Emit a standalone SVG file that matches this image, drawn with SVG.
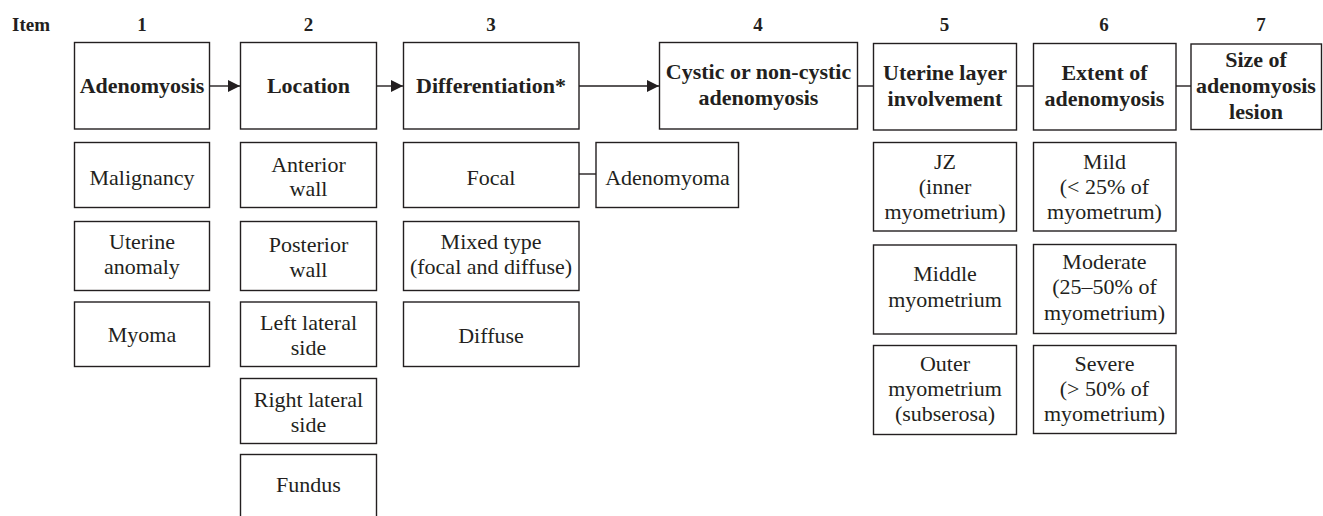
<svg xmlns="http://www.w3.org/2000/svg" width="1323" height="516" viewBox="0 0 1323 516" font-family="'Liberation Serif', 'Times New Roman', 'DejaVu Serif', serif">
<defs>
<style>
text{font-family:'Liberation Serif','Times New Roman','DejaVu Serif',serif;fill:#231f20;text-anchor:middle}
.h{font-size:19px;font-weight:bold}
.b{font-size:22px;font-weight:bold}
.r{font-size:22px}
rect{fill:#fff;stroke:#231f20;stroke-width:1.4}
.c line{stroke:#231f20;stroke-width:1.4}
</style>
<marker id="ah" viewBox="0 0 12 12" refX="12" refY="6" markerWidth="12" markerHeight="12" markerUnits="userSpaceOnUse" orient="auto">
<path d="M0,0 L12,6 L0,12 Z" fill="#231f20"/>
</marker>
</defs>
<rect x="0" y="0" width="1323" height="516" style="fill:#fff;stroke:none"/>
<g id="headers">
<text class="h" x="31" y="31">Item</text>
<text class="h" x="142" y="31">1</text>
<text class="h" x="308.5" y="31">2</text>
<text class="h" x="491" y="31">3</text>
<text class="h" x="758" y="31">4</text>
<text class="h" x="944.5" y="31">5</text>
<text class="h" x="1104" y="31">6</text>
<text class="h" x="1261" y="31">7</text>
</g>
<g class="c" id="connectors">
<line x1="210" y1="86" x2="240" y2="86" marker-end="url(#ah)"/>
<line x1="377" y1="86" x2="403" y2="86" marker-end="url(#ah)"/>
<line x1="579" y1="86" x2="659" y2="86" marker-end="url(#ah)"/>
<line x1="857" y1="86" x2="873" y2="86"/>
<line x1="1017" y1="86" x2="1033" y2="86"/>
<line x1="1176" y1="86" x2="1191" y2="86"/>
<line x1="579" y1="174" x2="596" y2="174"/>
</g>
<g id="n1"><rect x="74.5" y="42.5" width="135" height="86.5"/><text class="b" x="142" y="92.5">Adenomyosis</text></g>
<g id="n2"><rect x="240.5" y="42.5" width="136" height="86.5"/><text class="b" x="308.5" y="92.5">Location</text></g>
<g id="n3"><rect x="403.5" y="42.5" width="175.5" height="86.5"/><text class="b" x="491" y="92.5">Differentiation*</text></g>
<g id="n4"><rect x="659.5" y="42.5" width="198" height="86.5"/><text class="b" x="758.5" y="79">Cystic or non-cystic</text><text class="b" x="758.5" y="104.5">adenomyosis</text></g>
<g id="n5"><rect x="873.5" y="43.5" width="143" height="86.5"/><text class="b" x="945" y="80">Uterine layer</text><text class="b" x="945" y="105.5">involvement</text></g>
<g id="n6"><rect x="1033.5" y="43.5" width="142.5" height="86.5"/><text class="b" x="1104.5" y="80">Extent of</text><text class="b" x="1104.5" y="105.5">adenomyosis</text></g>
<g id="n7"><rect x="1191" y="44" width="130.5" height="85.5"/><text class="b" x="1256" y="67">Size of</text><text class="b" x="1256" y="93">adenomyosis</text><text class="b" x="1256" y="119">lesion</text></g>

<g id="malignancy"><rect x="74.5" y="142.5" width="135" height="65"/><text class="r" x="142" y="185">Malignancy</text></g>
<g id="uterine-anomaly"><rect x="74.5" y="221.5" width="135" height="69"/><text class="r" x="142" y="248.5">Uterine</text><text class="r" x="142" y="273.5">anomaly</text></g>
<g id="myoma"><rect x="74.5" y="302" width="135" height="64.5"/><text class="r" x="142" y="342">Myoma</text></g>

<g id="anterior"><rect x="240.5" y="142.5" width="136" height="65"/><text class="r" x="308.5" y="171.5">Anterior</text><text class="r" x="308.5" y="196">wall</text></g>
<g id="posterior"><rect x="240.5" y="221.5" width="136" height="69"/><text class="r" x="308.5" y="251.5">Posterior</text><text class="r" x="308.5" y="277">wall</text></g>
<g id="left-lateral"><rect x="240.5" y="302" width="136" height="64.5"/><text class="r" x="308.5" y="329.5">Left lateral</text><text class="r" x="308.5" y="355">side</text></g>
<g id="right-lateral"><rect x="240.5" y="378.5" width="136" height="65"/><text class="r" x="308.5" y="406.5">Right lateral</text><text class="r" x="308.5" y="431.5">side</text></g>
<g id="fundus"><rect x="240.5" y="454.5" width="136" height="70"/><text class="r" x="308.5" y="492">Fundus</text></g>

<g id="focal"><rect x="403.5" y="142.5" width="175.5" height="65"/><text class="r" x="491" y="184.5">Focal</text></g>
<g id="adenomyoma"><rect x="596" y="142.5" width="142.5" height="65"/><text class="r" x="667.5" y="184.5">Adenomyoma</text></g>
<g id="mixed"><rect x="403.5" y="221.5" width="175.5" height="69"/><text class="r" x="491" y="248.5">Mixed type</text><text class="r" x="491" y="273.5">(focal and diffuse)</text></g>
<g id="diffuse"><rect x="403.5" y="302" width="175.5" height="64.5"/><text class="r" x="491" y="342.5">Diffuse</text></g>

<g id="jz"><rect x="873.5" y="142.5" width="143" height="88.5"/><text class="r" x="945" y="168.5">JZ</text><text class="r" x="945" y="193.5">(inner</text><text class="r" x="945" y="218.5">myometrium)</text></g>
<g id="middle"><rect x="873.5" y="245" width="143" height="89"/><text class="r" x="945" y="281">Middle</text><text class="r" x="945" y="306.5">myometrium</text></g>
<g id="outer"><rect x="873.5" y="345.5" width="143" height="89"/><text class="r" x="945" y="370.5">Outer</text><text class="r" x="945" y="396">myometrium</text><text class="r" x="945" y="421">(subserosa)</text></g>

<g id="mild"><rect x="1033.5" y="142.5" width="142.5" height="88.5"/><text class="r" x="1104.5" y="168.5">Mild</text><text class="r" x="1104.5" y="193.5">(&lt; 25% of</text><text class="r" x="1104.5" y="218.5">myometrum)</text></g>
<g id="moderate"><rect x="1033.5" y="244.5" width="142.5" height="89"/><text class="r" x="1104.5" y="268.5">Moderate</text><text class="r" x="1104.5" y="294">(25–50% of</text><text class="r" x="1104.5" y="319.5">myometrium)</text></g>
<g id="severe"><rect x="1033.5" y="345.5" width="142.5" height="88"/><text class="r" x="1104.5" y="370.5">Severe</text><text class="r" x="1104.5" y="396">(&gt; 50% of</text><text class="r" x="1104.5" y="421">myometrium)</text></g>
</svg>
